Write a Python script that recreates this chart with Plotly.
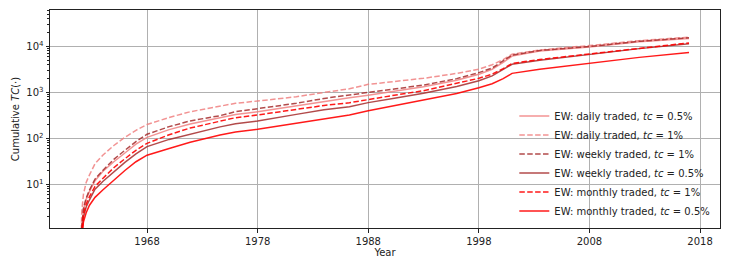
import plotly.graph_objects as go

years = [1962.0, 1962.1, 1962.25, 1962.5, 1962.8, 1963.3, 1964.0, 1965.0, 1966.0, 1967.0,
         1968.0, 1970.0, 1971.9, 1974.6, 1976.0, 1978.0, 1981.5, 1984.0, 1986.3, 1988.0,
         1990.5, 1993.0, 1996.0, 1998.0, 1999.2, 2000.2, 2001.0, 2003.5, 2008.0, 2012.5, 2017.0]

daily_1 = [0.3, 2.5, 6, 11, 16, 28, 43, 70, 105, 150,
           200, 285, 380, 500, 580, 650, 806, 1000, 1200, 1500,
           1750, 2030, 2600, 3200, 4000, 5200, 6800, 8400, 10500, 13400, 16000]
daily_05 = [0.15, 1.1, 2.8, 4.7, 7, 12, 19, 31, 48, 75,
            105, 155, 205, 280, 330, 381, 515, 650, 767, 870,
            1080, 1333, 1850, 2480, 3200, 4500, 6200, 8000, 9800, 12700, 15000]
weekly_1 = [0.15, 1.2, 3, 5, 7.5, 13, 20, 35, 55, 85,
            123, 180, 240, 312, 380, 442, 580, 740, 890, 1000,
            1200, 1450, 2000, 2700, 3400, 4800, 6500, 8200, 10000, 13000, 15500]
weekly_05 = [0.1, 0.8, 1.9, 3.2, 4.6, 7.8, 11.5, 19, 30, 46,
             66, 95, 125, 178, 208, 238, 333, 420, 490, 600,
             760, 960, 1350, 1800, 2300, 3100, 4100, 5000, 6700, 9000, 11500]
monthly_1 = [0.1, 0.9, 2.2, 3.7, 5.4, 9, 13.4, 23, 36, 55,
             78, 120, 168, 242, 282, 324, 435, 520, 597, 707,
             880, 1090, 1550, 2030, 2500, 3300, 4300, 5200, 6900, 9200, 12000]
monthly_05 = [0.08, 0.6, 1.5, 2.4, 3.5, 5.2, 7.5, 12.5, 20, 31,
              43, 60, 82, 118, 138, 158, 213, 270, 324, 400,
              520, 684, 950, 1266, 1550, 2000, 2600, 3200, 4300, 5800, 7450]

series = [
    ("EW: daily traded, <i>tc</i> = 0.5%", daily_05, "rgba(240,128,128,0.85)", "solid"),
    ("EW: daily traded, <i>tc</i> = 1%", daily_1, "rgba(240,128,128,0.85)", "5.5px,2.4px"),
    ("EW: weekly traded, <i>tc</i> = 1%", weekly_1, "rgba(165,42,42,0.85)", "5.5px,2.4px"),
    ("EW: weekly traded, <i>tc</i> = 0.5%", weekly_05, "rgba(165,42,42,0.85)", "solid"),
    ("EW: monthly traded, <i>tc</i> = 1%", monthly_1, "rgba(255,0,0,0.9)", "5.5px,2.4px"),
    ("EW: monthly traded, <i>tc</i> = 0.5%", monthly_05, "rgba(255,0,0,0.9)", "solid"),
]

x_ticks = [1968, 1978, 1988, 1998, 2008, 2018]
y_ticks = [10, 100, 1000, 10000]
y_ticktext = ["10<sup>1</sup>", "10<sup>2</sup>", "10<sup>3</sup>", "10<sup>4</sup>"]

fig = go.Figure()
for name, vals, color, dash in series:
    fig.add_trace(go.Scatter(x=years, y=vals, mode="lines", name=name,
                             line=dict(color=color, width=1.5, dash=dash)))

minor_vals = [m * 10 ** k for k in range(0, 5) for m in range(2, 10)]

# the page body has an 8px default margin, so the figure is sized to fit
fig.update_layout(
    width=722, height=258,
    margin=dict(l=42, r=10, t=2, b=38),
    paper_bgcolor="white", plot_bgcolor="white",
    font=dict(family="DejaVu Sans", size=10, color="#222"),
    showlegend=True,
    legend=dict(x=0.993, y=0.012, xanchor="right", yanchor="bottom",
                bgcolor="rgba(0,0,0,0)", font=dict(size=10),
                itemwidth=30, tracegroupgap=0),
)
fig.update_xaxes(
    range=[1959.23, 2019.8], tickmode="array", tickvals=x_ticks,
    showgrid=True, gridcolor="#b0b0b0", gridwidth=0.8,
    showline=True, linecolor="#222", linewidth=1, mirror=True,
    ticks="outside", ticklen=3.5, tickcolor="#222", zeroline=False,
    automargin=False,
    title=dict(text="Year", standoff=2, font=dict(size=10)),
)
fig.update_yaxes(
    type="log", range=[0.0486, 4.795], tickmode="array",
    tickvals=y_ticks, ticktext=y_ticktext,
    showgrid=True, gridcolor="#b0b0b0", gridwidth=0.8,
    showline=True, linecolor="#222", linewidth=1, mirror=True,
    ticks="outside", ticklen=3.5, tickcolor="#222", zeroline=False,
    automargin=False,
    minor=dict(tickmode="array", tickvals=minor_vals, ticks="outside",
               ticklen=2, tickcolor="#222", showgrid=False),
    title=dict(text="Cumulative <i>TC</i>(·)", standoff=4, font=dict(size=10)),
)

fig.write_html("out.html")
